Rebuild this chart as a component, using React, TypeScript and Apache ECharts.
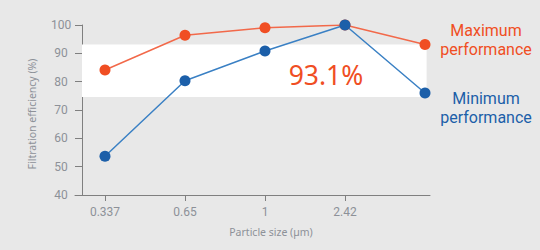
import React, { useEffect, useRef } from "react";
import * as echarts from "echarts";

// Particle size categories (last point is unlabeled)
const categories = ["0.337", "0.65", "1", "2.42", ""];
const labeledTicks = [0, 1, 2, 3];
const maximumPerformance = [84.1, 96.4, 99.0, 100, 93.1];
const minimumPerformance = [53.7, 80.3, 90.8, 100, 76.0];
const bandRange = [74.6, 93.1];
const highlightText = "93.1%";
const maxLabelLines = ["Maximum", "performance"];
const minLabelLines = ["Minimum", "performance"];
const xAxisTitle = "Particle size (µm)";
const yAxisTitle = "Filtration efficiency (%)";

const ORANGE = "#f04e23";
const ORANGE_LINE = "#f2694a";
const BLUE = "#1c5fa9";
const BLUE_LINE = "#3a80c4";
const AXIS = "#7f7f7f";
const LABEL = "#8d9198";
const FONT = "'Noto Sans', 'Open Sans', sans-serif";

export default function App() {
  const ref = useRef<HTMLDivElement>(null);
  useEffect(() => {
    document.body.style.margin = "0";
    const chart = echarts.init(ref.current!, null, { renderer: "svg" });
    const toPairs = (arr: number[]) => arr.map((v, i) => [i, v]);
    const lineText = (text: string, x: number, y: number, fill: string) => ({
      type: "text",
      x,
      y,
      style: { text, fill, font: `16px Roboto, sans-serif`, align: "center", verticalAlign: "middle" },
    });
    chart.setOption({
      animation: false,
      backgroundColor: "#e8e8e8",
      grid: { left: 75, top: 25, width: 355, height: 170, containLabel: false },
      xAxis: {
        type: "value",
        min: -0.375,
        max: 4.0625,
        splitLine: { show: false },
        axisLine: { onZero: false, lineStyle: { color: AXIS, width: 1 } },
        axisTick: { show: true, customValues: labeledTicks, length: 6, lineStyle: { color: AXIS } },
        axisLabel: {
          customValues: labeledTicks,
          formatter: (v: number) => categories[Math.round(v)],
          color: LABEL,
          fontFamily: "Roboto, sans-serif",
          fontSize: 12,
          margin: 11,
        },
      },
      yAxis: {
        type: "value",
        min: 40,
        max: 100,
        interval: 10,
        offset: -7,
        splitLine: { show: false },
        axisLine: { show: true, onZero: false, lineStyle: { color: AXIS, width: 1 } },
        axisTick: { show: true, length: 7, lineStyle: { color: AXIS } },
        axisLabel: {
          color: LABEL,
          fontFamily: "Roboto, sans-serif",
          fontSize: 12,
          align: "center",
          margin: 21,
        },
      },
      series: [
        {
          type: "line",
          name: "Maximum performance",
          data: toPairs(maximumPerformance),
          symbol: "circle",
          symbolSize: 11,
          z: 3,
          lineStyle: { color: ORANGE_LINE, width: 1.5 },
          itemStyle: { color: ORANGE },
          markArea: {
            silent: true,
            itemStyle: { color: "#ffffff", opacity: 1 },
            data: [[{ xAxis: -0.2875, yAxis: bandRange[0] }, { xAxis: 4.02, yAxis: bandRange[1] }]],
          },
        },
        {
          type: "line",
          name: "Minimum performance",
          data: toPairs(minimumPerformance),
          symbol: "circle",
          symbolSize: 11,
          z: 3,
          lineStyle: { color: BLUE_LINE, width: 1.5 },
          itemStyle: { color: BLUE },
        },
      ],
      graphic: [
        {
          type: "text",
          x: 326,
          y: 75,
          z: 10,
          style: {
            text: highlightText,
            fill: ORANGE,
            font: `26.5px ${FONT}`,
            align: "center",
            verticalAlign: "middle",
          },
        },
        lineText(maxLabelLines[0], 486, 30.5, ORANGE),
        lineText(maxLabelLines[1], 486, 49.5, ORANGE),
        lineText(minLabelLines[0], 486, 98, BLUE),
        lineText(minLabelLines[1], 486, 117, BLUE),
        {
          type: "text",
          x: 271,
          y: 232,
          style: {
            text: xAxisTitle,
            fill: LABEL,
            font: `10.5px ${FONT}`,
            align: "center",
            verticalAlign: "middle",
          },
        },
        {
          type: "text",
          x: 32,
          y: 114,
          rotation: Math.PI / 2,
          style: {
            text: yAxisTitle,
            fill: LABEL,
            font: `10.5px ${FONT}`,
            align: "center",
            verticalAlign: "middle",
          },
        },
      ],
    });
    return () => chart.dispose();
  }, []);
  return <div ref={ref} style={{ position: "absolute", left: 0, top: 0, width: 540, height: 250 }} />;
}
